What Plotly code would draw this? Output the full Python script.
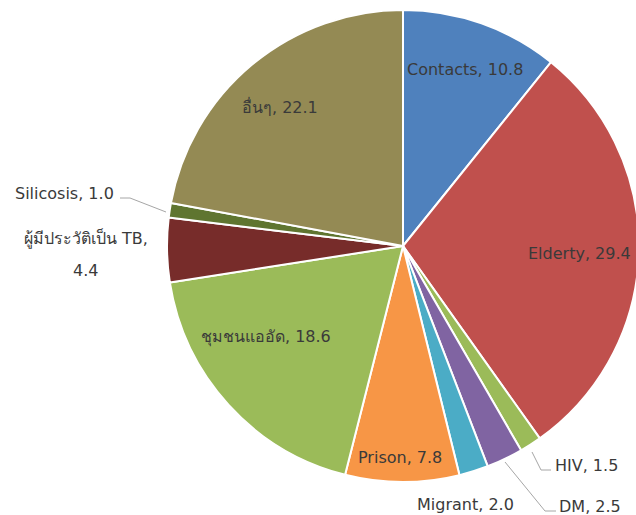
import plotly.graph_objects as go

W, H = 642, 515  # slightly wider than the 636px window: the pie is clipped at the right edge

labels = ["Contacts", "Elderty", "HIV", "DM", "Migrant", "Prison",
          "ชุมชนแออัด", "ผู้มีประวัติเป็น TB", "Silicosis", "อื่นๆ"]
values = [10.8, 29.4, 1.5, 2.5, 2.0, 7.8, 18.6, 4.4, 1.0, 22.1]
colors = ["#4F81BD", "#C0504D", "#9BBB59", "#8064A2", "#4BACC6", "#F79646",
          "#9BBB59", "#772C2A", "#5F7530", "#948A54"]

# label placement (pixel centres); a second y means the value goes on its own line
label_pos = {
    "Contacts": (465, 70, None),
    "Elderty": (579, 253, None),
    "HIV": (586, 465, None),
    "DM": (590, 506, None),
    "Migrant": (465, 504, None),
    "Prison": (400, 457, None),
    "ชุมชนแออัด": (266, 337, None),
    "ผู้มีประวัติเป็น TB": (86, 238, 270),
    "Silicosis": (64, 193, None),
    "อื่นๆ": (280, 106, None),
}

leaders = [
    [(532, 452), (541, 470), (551, 470)],
    [(505, 462), (545, 511), (556, 511)],
    [(120, 198), (130, 198), (166, 212)],
]


def px(x):
    return x / W


def py(y):
    return 1 - y / H


FONT = "'DejaVu Sans', 'Noto Sans', sans-serif"
TXT = dict(family=FONT, size=16, color="#3A3A3A")

fig = go.Figure(go.Pie(
    labels=labels,
    values=values,
    sort=False,
    direction="clockwise",
    rotation=0,
    marker=dict(colors=colors, line=dict(color="white", width=2)),
    textinfo="none",
    hoverinfo="label+value",
    showlegend=False,
    domain=dict(x=[164 / W, 1.0], y=[1 - 482 / H, 1 - 10 / H]),
))

annotations = []
for lab, val in zip(labels, values):
    x, y, y2 = label_pos[lab]
    if y2 is None:
        annotations.append(dict(x=px(x), y=py(y), text=f"{lab}, {val:.1f}"))
    else:
        annotations.append(dict(x=px(x), y=py(y), text=f"{lab},"))
        annotations.append(dict(x=px(x), y=py(y2), text=f"{val:.1f}"))
for a in annotations:
    a.update(xref="paper", yref="paper", showarrow=False,
             xanchor="center", yanchor="middle", font=TXT)

shapes = []
for pts in leaders:
    path = "M " + " L ".join(f"{px(a)},{py(b)}" for a, b in pts)
    shapes.append(dict(type="path", xref="paper", yref="paper", path=path,
                       line=dict(color="#A6A6A6", width=1)))

fig.update_layout(
    width=W, height=H,
    margin=dict(l=0, r=0, t=0, b=0),
    paper_bgcolor="white", plot_bgcolor="white",
    annotations=annotations, shapes=shapes,
    font=dict(family=FONT),
)

fig.write_html("out.html", config={"displayModeBar": False})

with open("out.html", encoding="utf-8") as f:
    html = f.read()
html = html.replace("<head>", "<head><style>html,body{margin:0;padding:0;overflow:hidden}</style>", 1)
with open("out.html", "w", encoding="utf-8") as f:
    f.write(html)
